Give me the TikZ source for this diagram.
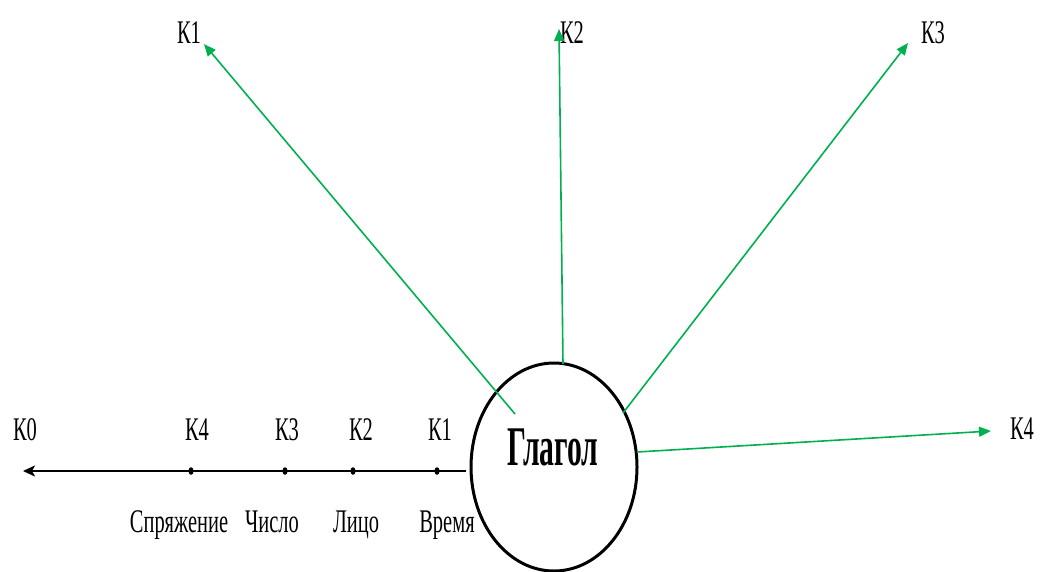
\documentclass[tikz,border=0pt]{standalone}
\usepackage{fontspec}
\setmainfont{Liberation Serif}
\usetikzlibrary{arrows.meta,shapes.geometric}
\definecolor{grn}{RGB}{0,176,80}
\newcommand{\cond}[1]{\scalebox{0.62}[1]{\fontsize{33}{36}\selectfont #1}}
\newcommand{\condbig}[1]{\scalebox{0.53}[1]{\fontsize{56}{60}\selectfont\bfseries #1}}
\begin{document}
\begin{tikzpicture}[x=1pt,y=-1pt,
  lab/.style={inner sep=0pt, anchor=base},
  garrow/.style={draw=grn, line width=1.6pt, -{Triangle[length=12pt,width=10pt]}},
  axisline/.style={draw=black, line width=2pt, -{Stealth[length=12pt,width=11pt,inset=3pt]}},
  tick/.style={fill=black, draw=none}]
\useasboundingbox (0,0) rectangle (1040,571);
% central ellipse
\node (g) [draw=black, line width=3pt, ellipse, minimum width=166pt, minimum height=208pt, inner sep=0pt] at (554,467) {};
\node (gl) [lab] at (553,465) {\condbig{Глагол}};
% top / right labels
\node (t1) [lab] at (189,43) {\cond{К1}};
\node (t2) [lab] at (572,43) {\cond{К2}};
\node (t3) [lab] at (933,43) {\cond{К3}};
\node (t4) [lab] at (1022,439) {\cond{К4}};
% green arrows
\coordinate (s1) at (515,414);
\coordinate (e1) at (204,44);
\coordinate (s2) at (563,364);
\coordinate (e2) at (559,29);
\coordinate (s3) at (623,413);
\coordinate (e3) at (908,43);
\coordinate (s4) at (637,452);
\coordinate (e4) at (991,431);
\draw[garrow] (s1) -- (e1);
\draw[garrow] (s2) -- (e2);
\draw[garrow] (s3) -- (e3);
\draw[garrow] (s4) -- (e4);
% axis
\coordinate (a0) at (466,471);
\coordinate (a1) at (23,471);
\draw[axisline] (a0) -- (a1);
\foreach \n/\x in {d4/191,d3/285,d2/353,d1/437}{
  \fill[tick] (\x,471) ellipse [x radius=2.6pt, y radius=3.8pt];
}
% axis labels
\node (k0) [lab] at (25,440) {\cond{К0}};
\node (k4) [lab] at (197,440) {\cond{К4}};
\node (k3) [lab] at (287,440) {\cond{К3}};
\node (k2) [lab] at (361,440) {\cond{К2}};
\node (k1) [lab] at (440,440) {\cond{К1}};
\node (w4) [lab] at (179,532) {\cond{Спряжение}};
\node (w3) [lab] at (272,532) {\cond{Число}};
\node (w2) [lab] at (356,532) {\cond{Лицо}};
\node (w1) [lab] at (447,532) {\cond{Время}};
\end{tikzpicture}
\end{document}
